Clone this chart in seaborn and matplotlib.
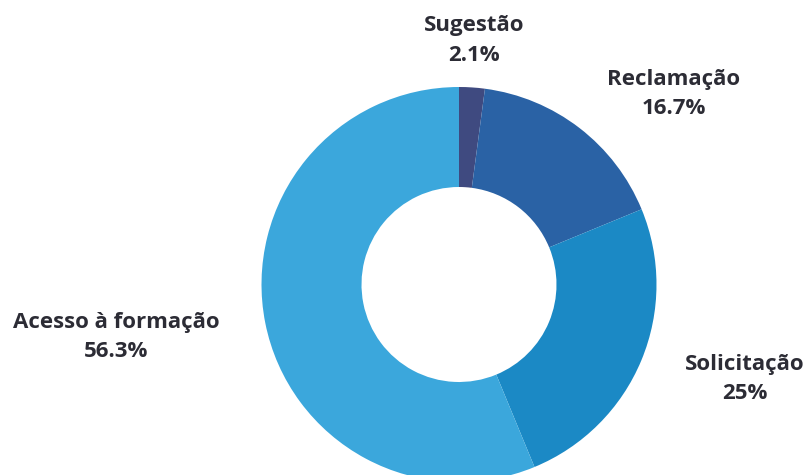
import matplotlib
matplotlib.use("Agg")
import matplotlib.pyplot as plt
import seaborn as sns

# Distribution of requests by type (percent)
categories = ["Sugestão", "Reclamação", "Solicitação", "Acesso à formação"]
shares = [2.1, 16.7, 25, 56.3]
share_labels = ["2.1%", "16.7%", "25%", "56.3%"]
colors = ["#3f4a80", "#2a62a5", "#1b89c5", "#3ba7dc"]

sns.set_theme(style="white")
plt.rcParams["font.family"] = ["Open Sans", "DejaVu Sans"]

W, H = 806, 475
fig = plt.figure(figsize=(W / 100, H / 100), dpi=100)
ax = fig.add_axes([0, 0, 1, 1])

outer_r = 197.5
ring_w = 100
ax.pie(
    shares,
    colors=colors,
    startangle=90,
    counterclock=False,
    center=(459, H - 284.5),
    radius=outer_r,
    wedgeprops=dict(width=ring_w, linewidth=0),
    frame=True,
)
ax.set_xlim(0, W)
ax.set_ylim(0, H)
ax.set_aspect("equal")
ax.axis("off")

label_pos = [(474, H - 40.5), (674, H - 94), (745, H - 379), (116, H - 337)]
for name, lab, (x, y) in zip(categories, share_labels, label_pos):
    ax.text(x, y, f"{name}\n{lab}", ha="center", va="center",
            fontsize=16, fontweight="bold", color="#2c2c35",
            linespacing=1.55)

fig.savefig("out.png", dpi=100)
